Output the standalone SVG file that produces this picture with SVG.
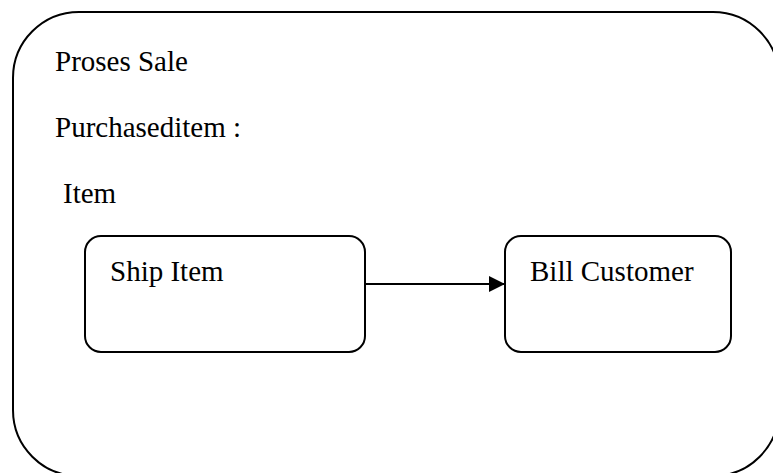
<svg xmlns="http://www.w3.org/2000/svg" width="773" height="473" viewBox="0 0 773 473">
  <defs>
    <style>
      .box { fill: #ffffff; stroke: #000000; stroke-width: 2; }
      .lbl { font-family: "Liberation Serif", "Times New Roman", serif; font-size: 29px; fill: #000000; }
      .conn { stroke: #000000; stroke-width: 2; fill: none; }
    </style>
    <marker id="arrow" viewBox="0 0 16 16" refX="16" refY="8" markerWidth="16" markerHeight="16" markerUnits="userSpaceOnUse" orient="auto">
      <path d="M0,0 L16,8 L0,16 Z" fill="#000000"/>
    </marker>
  </defs>
  <rect width="773" height="473" fill="#ffffff"/>
  <g id="proses-sale">
    <rect class="box" x="13" y="12" width="766" height="464" rx="66" ry="66"/>
    <text class="lbl" x="55" y="71">Proses Sale</text>
    <text class="lbl" x="55" y="137">Purchaseditem :</text>
    <text class="lbl" x="63" y="203">Item</text>
  </g>
  <g id="ship-item">
    <rect class="box" x="85" y="236" width="280" height="116" rx="16" ry="16"/>
    <text class="lbl" x="110" y="281">Ship Item</text>
  </g>
  <g id="bill-customer">
    <rect class="box" x="505" y="236" width="226" height="116" rx="16" ry="16"/>
    <text class="lbl" x="530" y="281">Bill Customer</text>
  </g>
  <g id="connectors">
    <line class="conn" x1="365" y1="284" x2="505" y2="284" marker-end="url(#arrow)"/>
  </g>
</svg>
